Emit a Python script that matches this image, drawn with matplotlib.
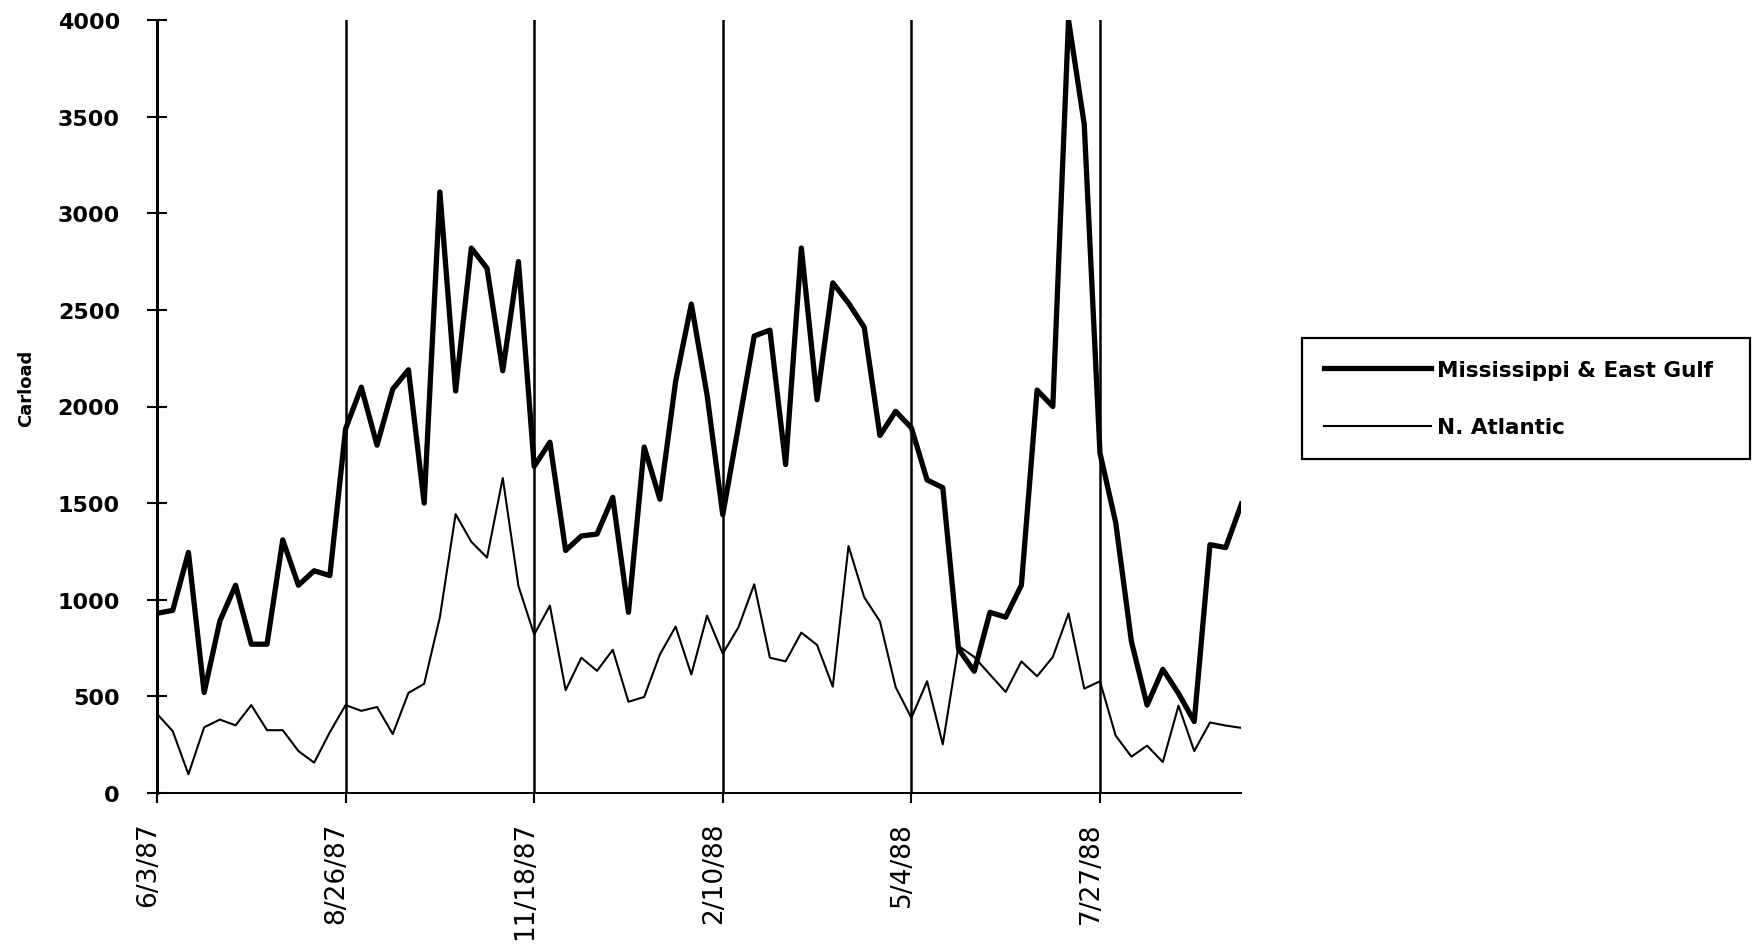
import matplotlib
matplotlib.use("Agg")
import matplotlib.pyplot as plt
import matplotlib.transforms as mtransforms

# Weekly carloads, starting the week of 6/3/87
weeks = list(range(70))

mississippi_east_gulf = [
    930, 945, 1245, 520, 890, 1075, 770, 770, 1310, 1075,
    1150, 1125, 1885, 2100, 1800, 2090, 2190, 1500, 3110, 2080,
    2820, 2715, 2185, 2750, 1690, 1815, 1255, 1330, 1340, 1530,
    935, 1790, 1520, 2130, 2530, 2060, 1440, 1900, 2365, 2395,
    1700, 2820, 2035, 2640, 2535, 2410, 1850, 1975, 1890, 1620,
    1580, 745, 630, 935, 910, 1075, 2085, 2000, 4000, 3460,
    1760, 1400, 785, 455, 640, 515, 370, 1285, 1270, 1495,
]

north_atlantic = [
    410, 320, 97, 340, 380, 350, 455, 325, 325, 217,
    157, 315, 455, 425, 445, 305, 518, 565, 910, 1443,
    1300, 1218, 1630, 1070, 820, 970, 532, 700, 632, 741,
    472, 497, 717, 861, 613, 918, 721, 858, 1080, 700,
    681, 830, 766, 550, 1278, 1013, 888, 548, 389, 578,
    252, 761, 704, 613, 523, 681, 604, 704, 929, 540,
    578, 297, 188, 245, 160, 452, 217, 365, 349, 337,
]

tick_weeks = [0, 12, 24, 36, 48, 60]
tick_labels = ["6/3/87", "8/26/87", "11/18/87", "2/10/88", "5/4/88", "7/27/88"]
y_ticks = [0, 500, 1000, 1500, 2000, 2500, 3000, 3500, 4000]

W, H = 1758, 945
fig = plt.figure(figsize=(W / 100, H / 100), dpi=100)
fig.patch.set_facecolor("white")

left_px, right_px, top_px, bottom_px = 157, 1241.4, 21, 794
ax = fig.add_axes([left_px / W, 1 - bottom_px / H,
                   (right_px - left_px) / W, (bottom_px - top_px) / H])

ax.plot(weeks, mississippi_east_gulf, color="black", linewidth=3.8,
        label="Mississippi & East Gulf", zorder=3)
ax.plot(weeks, north_atlantic, color="black", linewidth=1.5,
        label="N. Atlantic", zorder=3)

ax.set_xlim(0, 69)
ax.set_ylim(0, 4000)

for side in ("top", "right"):
    ax.spines[side].set_visible(False)
ax.spines["left"].set_linewidth(2.2)
ax.spines["bottom"].set_linewidth(1.4)

ax.set_xticks(tick_weeks)
ax.set_xticklabels(tick_labels, rotation=90, fontsize=19, family="DejaVu Sans")
ax.set_yticks(y_ticks)
ax.set_yticklabels([str(v) for v in y_ticks], fontsize=16,
                   family="DejaVu Sans", fontweight="bold")

ax.xaxis.grid(True, color="black", linewidth=1.8)
ax.yaxis.grid(False)

ax.tick_params(axis="x", direction="out", length=7.2, width=1.5, pad=13)
ax.tick_params(axis="y", direction="inout", length=14.4, width=1.5, pad=19.5)

# nudge the rotated date labels slightly left of their tick lines
shift = mtransforms.ScaledTranslation(-9 / 100, 0, fig.dpi_scale_trans)
for lbl in ax.get_xticklabels():
    lbl.set_transform(lbl.get_transform() + shift)

ax.set_ylabel("Carload", fontsize=13, fontweight="bold", family="DejaVu Sans")
ax.yaxis.set_label_coords((35 - left_px) / (right_px - left_px), 0.525)

leg_left, leg_right, leg_top, leg_bottom = 1302, 1750, 330, 469
leg = ax.legend(
    loc="center",
    bbox_to_anchor=(leg_left / W, 1 - leg_bottom / H,
                    (leg_right - leg_left) / W, (leg_bottom - leg_top) / H),
    bbox_transform=fig.transFigure,
    mode="expand",
    frameon=True,
    fancybox=False,
    shadow=False,
    handlelength=5.0,
    handletextpad=0.25,
    labelspacing=1.75,
    borderpad=1.0,
    borderaxespad=0,
    prop={"family": "DejaVu Sans", "weight": "bold", "size": 15.5},
)
frame = leg.get_frame()
frame.set_edgecolor("black")
frame.set_linewidth(1.6)
frame.set_facecolor("white")
frame.set_alpha(1.0)

fig.savefig("out.png", dpi=100, facecolor="white")
